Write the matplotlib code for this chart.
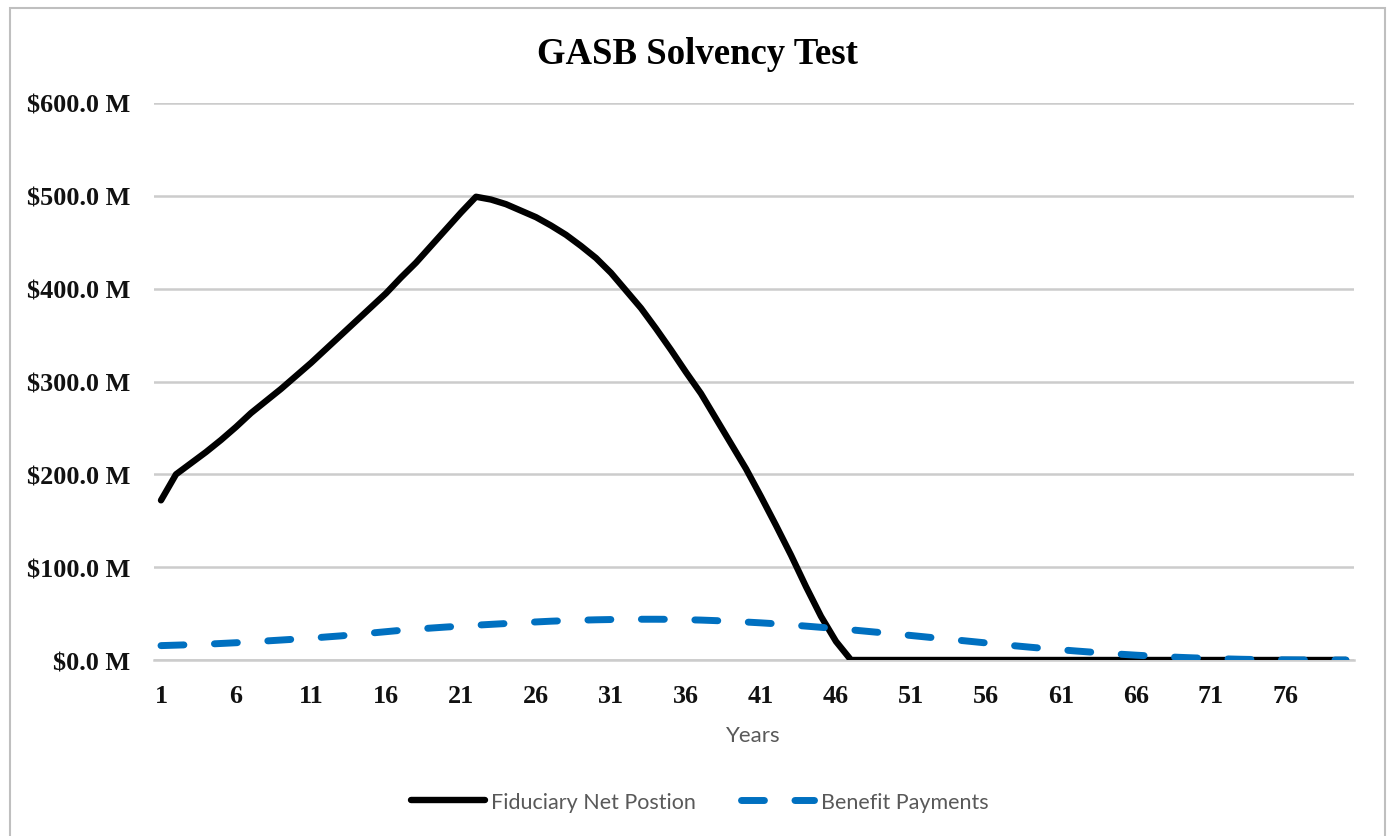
import matplotlib
matplotlib.use("Agg")
import matplotlib.pyplot as plt
from matplotlib.patches import Rectangle
from matplotlib.ticker import FuncFormatter

# Years 1..80 (values in $ millions)
years = list(range(1, 81))

net_position = [
    172, 200, 212, 224, 237, 251, 266, 279, 292, 306,
    320, 335, 350, 365, 380, 395, 412, 428, 446, 464,
    482, 499, 496, 491, 484, 477, 468, 458, 446, 433,
    417, 398, 379, 357, 334, 310, 287, 260, 233, 206,
    176, 145, 113, 79, 47, 20, 0, 0, 0, 0,
    0, 0, 0, 0, 0, 0, 0, 0, 0, 0,
    0, 0, 0, 0, 0, 0, 0, 0, 0, 0,
    0, 0, 0, 0, 0, 0, 0, 0, 0, 0,
]

benefit_payments = [
    15.5, 16, 16.5, 17, 17.8, 18.6, 19.5, 20.5, 21.5, 22.5,
    23.5, 24.8, 26, 27.5, 29, 30.5, 32, 33.2, 34.4, 35.5,
    36.5, 37.5, 38.4, 39.3, 40.2, 41, 41.8, 42.4, 42.9, 43.3,
    43.6, 43.8, 43.9, 43.9, 43.8, 43.4, 43, 42.4, 41.7, 40.9,
    40, 39, 37.8, 36.5, 35.2, 33.9, 32.5, 31, 29.5, 28,
    26.4, 24.8, 23.2, 21.6, 20, 18.4, 16.8, 15.2, 13.7, 12.3,
    11, 9.7, 8.5, 7.3, 6.2, 5.2, 4.3, 3.5, 2.8, 2.2,
    1.7, 1.2, 0.8, 0.5, 0.3, 0.2, 0.1, 0.05, 0, 0,
]

x_ticks = list(range(1, 81, 5))
y_ticks = [0, 100, 200, 300, 400, 500, 600]

serif = "Liberation Serif"
sans = "Lato"
grey_text = "#595959"

fig = plt.figure(figsize=(13.92, 8.37), dpi=100)
ax = fig.add_axes([153.5 / 1392, 1 - 661 / 837, 1200 / 1392, 557 / 837])

ax.plot(years, net_position, color="black", lw=4.6, solid_capstyle="round",
        solid_joinstyle="round", label="Fiduciary Net Postion", zorder=3)
ax.plot(years, benefit_payments, color="#0070C0", lw=5, dashes=(3.3, 4.4),
        dash_capstyle="round", label="Benefit Payments", zorder=4)

ax.set_xlim(0.5, 80.5)
ax.set_ylim(0, 600)
ax.set_xticks(x_ticks)
ax.set_yticks(y_ticks)
ax.yaxis.set_major_formatter(FuncFormatter(lambda v, p: f"${v:.1f} M"))

ax.grid(axis="y", color="#CCCCCC", lw=1.8)
ax.set_axisbelow(True)
for side in ["top", "right", "left"]:
    ax.spines[side].set_visible(False)
ax.spines["bottom"].set_color("#CCCCCC")
ax.spines["bottom"].set_linewidth(1.8)

ax.tick_params(axis="both", length=0)
ax.tick_params(axis="y", pad=16.5)
ax.tick_params(axis="x", pad=17)
for lab in ax.get_xticklabels() + ax.get_yticklabels():
    lab.set_fontfamily(serif)
    lab.set_fontweight("bold")
    lab.set_fontsize(18.8)
    lab.set_color("#111111")

ax.set_xlabel("Years", fontfamily=sans, fontsize=16, color=grey_text, labelpad=13)

fig.text(697 / 1392, 1 - 54 / 837, "GASB Solvency Test", ha="center", va="center",
         fontfamily=serif, fontweight="bold", fontsize=26.5)

leg = fig.legend(loc="center", bbox_to_anchor=(700 / 1392, 1 - 803 / 837), ncol=2,
                 frameon=False, handlelength=3.4, handletextpad=0.3, columnspacing=2.1,
                 prop={"family": sans, "size": 15.5})
for t in leg.get_texts():
    t.set_color(grey_text)

# chart area border (open at the bottom, as in the source image)
fig.add_artist(Rectangle((10 / 1392, -0.05), 1375 / 1392, 1.05 - 9 / 837,
                         transform=fig.transFigure, fill=False, ec="#BFBFBF", lw=1.5))

fig.savefig("out.png", dpi=100, facecolor="white")
